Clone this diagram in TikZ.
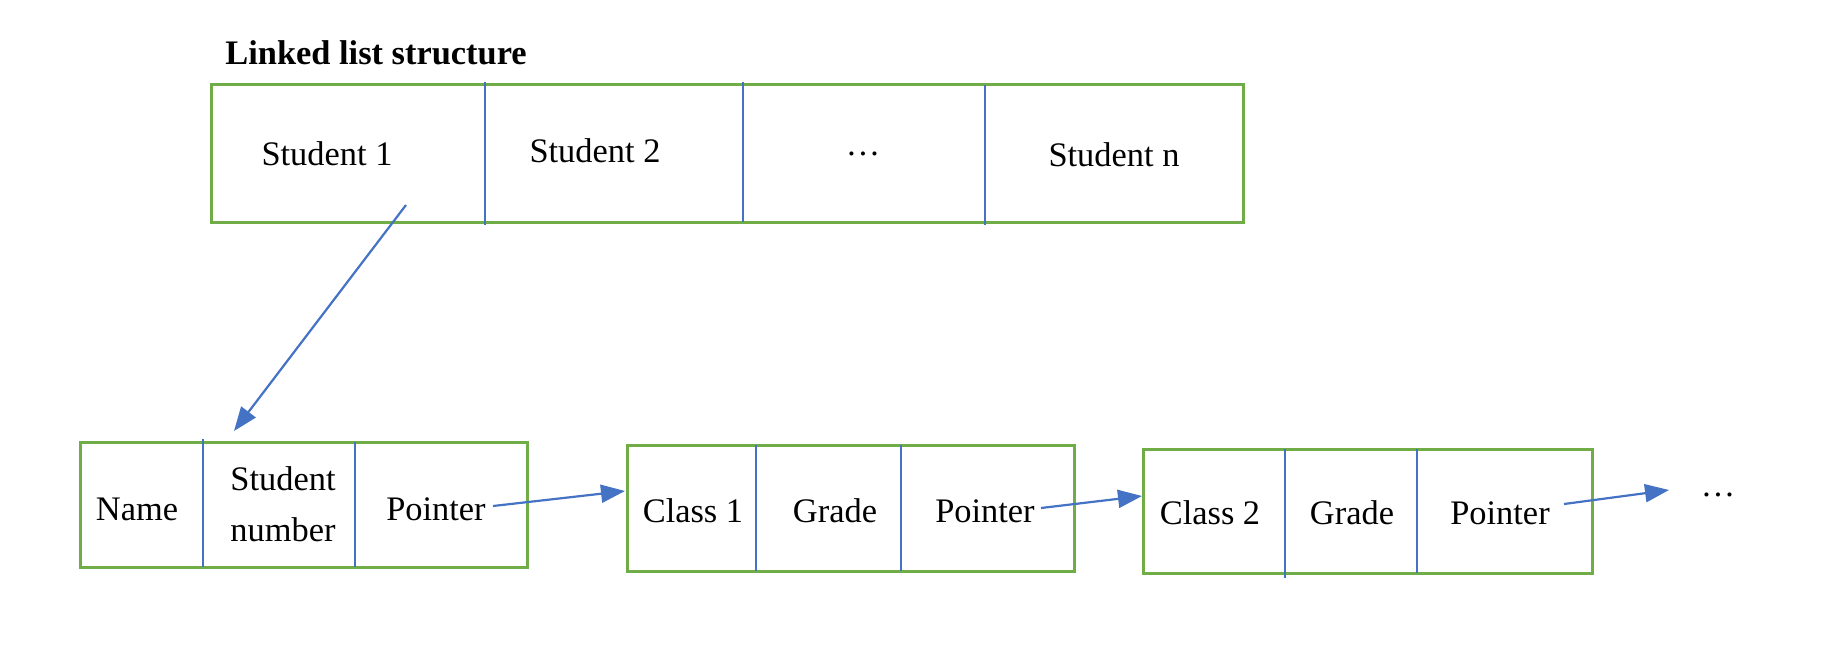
\documentclass[tikz,border=0pt]{standalone}
\usepackage{fontspec}
\setmainfont{Liberation Serif}
\usetikzlibrary{arrows.meta}
\definecolor{boxgreen}{HTML}{70AD47}
\definecolor{lineblue}{HTML}{4472C4}
\begin{document}
\begin{tikzpicture}[x=0.5pt,y=-0.5pt,
  box/.style={draw=boxgreen,line width=1.5pt},
  divider/.style={draw=lineblue,line width=0.7pt},
  lbl/.style={inner sep=0pt,font=\fontsize{17.2}{19}\selectfont,align=center},
  link/.style={draw=lineblue,line width=1.1pt,-{Triangle[length=12pt,width=9pt]}}]
\useasboundingbox (0,0) rectangle (1838,654);
% title
\node[lbl,anchor=west,font=\fontsize{17.2}{19}\selectfont\bfseries] (title) at (225,53) {Linked list structure};
% top box
\draw[box] (211,84) rectangle (1243,222);
\draw[divider] (485,82) -- (485,225);
\draw[divider] (743,82) -- (743,222);
\draw[divider] (985,85) -- (985,225);
\node[lbl] (s1) at (327,154) {Student 1};
\node[lbl] (s2) at (595,151) {Student 2};
\node[lbl] (sd) at (863,154) {\ldots};
\node[lbl] (sn) at (1114,155) {Student n};
% bottom box 1
\draw[box] (80,442) rectangle (527,567);
\draw[divider] (203,439) -- (203,567);
\draw[divider] (355,442) -- (355,567);
\node[lbl] (name) at (137,509) {Name};
\node[lbl,font=\fontsize{17.2}{25.5}\selectfont] (snum) at (283,504) {Student\\number};
\node[lbl] (p1) at (436,509) {Pointer};
% bottom box 2
\draw[box] (627,445) rectangle (1074,571);
\draw[divider] (756,445) -- (756,571);
\draw[divider] (901,445) -- (901,571);
\node[lbl] (c1) at (693,511) {Class 1};
\node[lbl] (g1) at (835,511) {Grade};
\node[lbl] (p2) at (985,511) {Pointer};
% bottom box 3
\draw[box] (1143,449) rectangle (1592,573);
\draw[divider] (1285,449) -- (1285,578);
\draw[divider] (1417,449) -- (1417,573);
\node[lbl] (c2) at (1210,513) {Class 2};
\node[lbl] (g2) at (1352,513) {Grade};
\node[lbl] (p3) at (1500,513) {Pointer};
\node[lbl] (more) at (1718,495) {\ldots};
% connectors
\coordinate (a0s) at (406,205);
\coordinate (a0e) at (234,431);
\coordinate (a1s) at (493,506);
\coordinate (a1e) at (625,491);
\coordinate (a2s) at (1041,508);
\coordinate (a2e) at (1142,496);
\coordinate (a3s) at (1564,504);
\coordinate (a3e) at (1669,490);
\draw[link] (a0s) -- (a0e);
\draw[link] (a1s) -- (a1e);
\draw[link] (a2s) -- (a2e);
\draw[link] (a3s) -- (a3e);
\end{tikzpicture}
\end{document}
